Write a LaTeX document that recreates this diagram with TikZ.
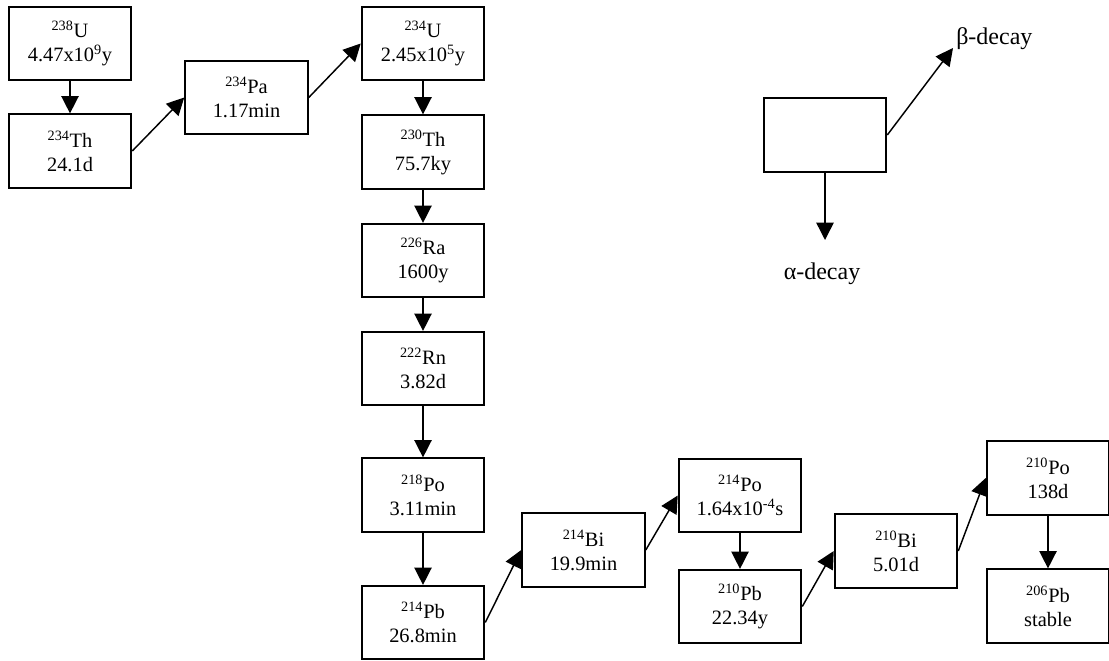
\documentclass[tikz,border=0pt]{standalone}
\usepackage{fontspec}
\setmainfont{Liberation Serif}
\usepackage{xcolor}
\usetikzlibrary{arrows.meta}

\begin{document}
\begin{tikzpicture}[x=0.75pt,y=0.75pt,yscale=-1,xscale=1,
	nuclide/.style={draw,line width=1.4pt,minimum width=92pt,minimum height=55pt,align=center,inner sep=0.75pt,font=\fontsize{15.3}{18}\selectfont},
	decay/.style={line width=1.1pt,-{Triangle[width=13pt,length=13pt]}},
	lbl/.style={inner sep=0.75pt,font=\fontsize{18}{21}\selectfont}]
	\useasboundingbox (0,0) rectangle (1109,660);
	
	%Shape: Rectangle [U-238 chain]
	\node [nuclide] (u238) at (70,43.5) {\textsuperscript{238}U\\4.47x10\textsuperscript{9}y};
	\node [nuclide] (th234) at (70,151) {\textsuperscript{234}Th\\24.1d};
	\node [nuclide] (pa234) at (246.5,97.5) {\textsuperscript{234}Pa\\1.17min};
	\node [nuclide] (u234) at (423,43.5) {\textsuperscript{234}U\\2.45x10\textsuperscript{5}y};
	\node [nuclide] (th230) at (423,152) {\textsuperscript{230}Th\\75.7ky};
	\node [nuclide] (ra226) at (423,260.5) {\textsuperscript{226}Ra\\1600y};
	\node [nuclide] (rn222) at (423,368.5) {\textsuperscript{222}Rn\\3.82d};
	\node [nuclide] (po218) at (423,495) {\textsuperscript{218}Po\\3.11min};
	\node [nuclide] (pb214) at (423,622.5) {\textsuperscript{214}Pb\\26.8min};
	\node [nuclide] (bi214) at (583.5,550) {\textsuperscript{214}Bi\\19.9min};
	\node [nuclide] (po214) at (740,495.5) {\textsuperscript{214}Po\\1.64x10\textsuperscript{-4}s};
	\node [nuclide] (pb210) at (740,606.5) {\textsuperscript{210}Pb\\22.34y};
	\node [nuclide] (bi210) at (896,551) {\textsuperscript{210}Bi\\5.01d};
	\node [nuclide] (po210) at (1048,478) {\textsuperscript{210}Po\\138d};
	\node [nuclide] (pb206) at (1048,606) {\textsuperscript{206}Pb\\stable};
	
	%Straight Lines [decays]
	\draw [decay] (u238) -- (th234);
	\draw [decay] (th234.east) -- (pa234.west);
	\draw [decay] (pa234.east) -- (u234.west);
	\draw [decay] (u234) -- (th230);
	\draw [decay] (th230) -- (ra226);
	\draw [decay] (ra226) -- (rn222);
	\draw [decay] (rn222) -- (po218);
	\draw [decay] (po218) -- (pb214);
	\draw [decay] (pb214.east) -- (bi214.west);
	\draw [decay] (bi214.east) -- (po214.west);
	\draw [decay] (po214) -- (pb210);
	\draw [decay] (pb210.east) -- (bi210.west);
	\draw [decay] (bi210.east) -- (po210.west);
	\draw [decay] (po210) -- (pb206);
	
	%Shape: Rectangle [legend]
	\node [nuclide] (key) at (825,135) {};
	% Text Node
	\node [lbl,anchor=west] (beta) at (955,39) {β-decay};
	% Text Node
	\node [lbl] (alpha) at (822,274) {α-decay};
	\coordinate (betatip) at (953,48);
	\coordinate (alphatip) at (key.south |- 0,240);
	\draw [decay] (key.east) -- (betatip);
	\draw [decay] (key.south) -- (alphatip);
	
\end{tikzpicture}
\end{document}
